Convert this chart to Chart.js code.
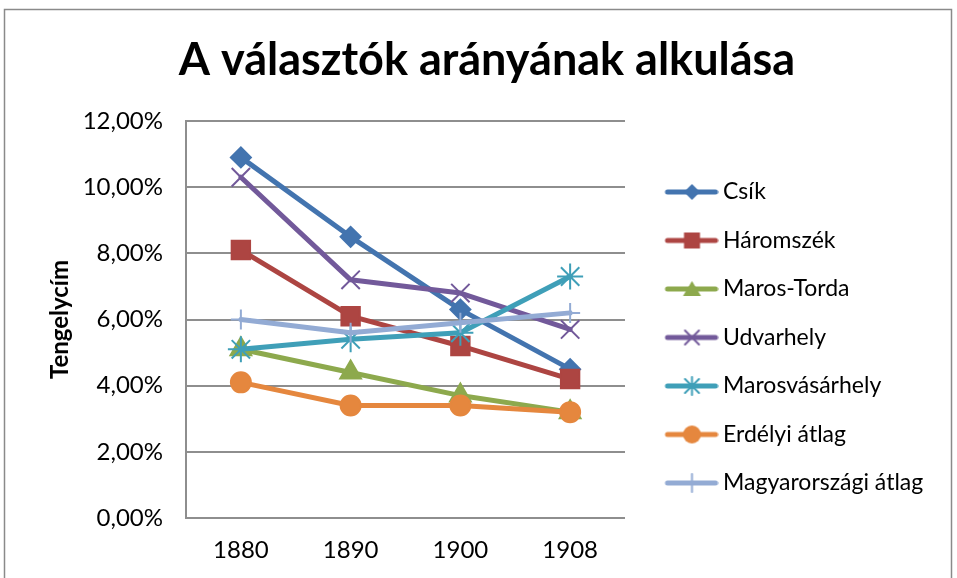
<!DOCTYPE html>
<html>
<head>
<meta charset="utf-8">
<script src="https://cdn.jsdelivr.net/npm/chart.js@4/dist/chart.umd.min.js"></script>
<style>
  html, body { margin: 0; padding: 0; background: #fff; }
  #wrap { position: absolute; left: 0; top: 0; width: 957px; height: 578px; }
</style>
</head>
<body>
<div id="wrap"><canvas id="line-chart" width="957" height="578"></canvas></div>
<script>
// years on the x axis
var years = ["1880", "1890", "1900", "1908"];

// share of voters, in percent
var csik = [10.9, 8.5, 6.3, 4.5];
var haromszek = [8.1, 6.1, 5.2, 4.2];
var marosTorda = [5.1, 4.4, 3.7, 3.2];
var udvarhely = [10.3, 7.2, 6.8, 5.7];
var marosvasarhely = [5.1, 5.4, 5.6, 7.3];
var erdelyi = [4.1, 3.4, 3.4, 3.2];
var magyar = [6.0, 5.6, 5.9, 6.2];

var yTicks = [0, 2, 4, 6, 8, 10, 12];

var labels = ["Csík", "Háromszék", "Maros-Torda", "Udvarhely", "Marosvásárhely", "Erdélyi átlag", "Magyarországi átlag"];
var color = ["#4374AF", "#AD4542", "#8DA94D", "#72599A", "#3F9FB8", "#E5873E", "#93ABD4"];
var shapes = ["diamond", "square", "triangle", "x", "star", "circle", "plus"];

var fontFam = "Lato, 'Open Sans', sans-serif";
var legendSize = 23;
var tickSize = 24;

Chart.defaults.font.family = fontFam;
Chart.defaults.color = "#000";

// little picture for the legend: line + marker
function legendPic(col, shape) {
    var c = document.createElement("canvas");
    c.width = 75;
    c.height = 26;
    var g = c.getContext("2d");
    g.strokeStyle = col;
    g.fillStyle = col;
    g.lineWidth = 5;
    g.lineCap = "round";
    g.beginPath();
    g.moveTo(24, 13);
    g.lineTo(72, 13);
    g.stroke();
    var x = 48.5, y = 13;
    g.lineWidth = 2;
    g.beginPath();
    if (shape == "diamond") {
        g.moveTo(x - 8, y); g.lineTo(x, y - 8); g.lineTo(x + 8, y); g.lineTo(x, y + 8); g.closePath(); g.fill();
    } else if (shape == "square") {
        g.rect(x - 8, y - 8, 16, 16); g.fill();
    } else if (shape == "triangle") {
        g.moveTo(x, y - 8); g.lineTo(x + 9, y + 7); g.lineTo(x - 9, y + 7); g.closePath(); g.fill();
    } else if (shape == "x") {
        g.moveTo(x - 7, y - 7); g.lineTo(x + 7, y + 7); g.moveTo(x + 7, y - 7); g.lineTo(x - 7, y + 7); g.stroke();
    } else if (shape == "star") {
        g.moveTo(x - 7, y - 7); g.lineTo(x + 7, y + 7); g.moveTo(x + 7, y - 7); g.lineTo(x - 7, y + 7);
        g.moveTo(x, y - 9); g.lineTo(x, y + 9); g.stroke();
    } else if (shape == "circle") {
        g.arc(x, y, 9, 0, Math.PI * 2); g.fill();
    } else if (shape == "plus") {
        g.moveTo(x, y - 9); g.lineTo(x, y + 9); g.stroke();
    }
    return c;
}

var pics = [];
for (var k = 0; k < labels.length; k++) {
    pics.push(legendPic(color[k], shapes[k]));
}

// measure the longest legend text so the plot lands where it should
var mc = document.createElement("canvas").getContext("2d");
mc.font = "normal " + legendSize + "px " + fontFam;
var tw = 0;
labels.forEach(function (t) { tw = Math.max(tw, mc.measureText(t).width); });

var legPad = 25.5;
var boxW = 61;
var legendWidth = legPad + boxW + legendSize / 2 + tw + 10;
var plotLeft = 186, plotRight = 625;
var padRight = Math.max(0, 957 - plotRight - legendWidth);
var padLeft = 17 + padRight;

var series = [csik, haromszek, marosTorda, udvarhely, marosvasarhely, erdelyi, magyar];
var pStyle = ["rectRot", "rect", "triangle", "crossRot", "star", "circle", "cross"];
var pRad = [10, 13, 12, 13, 13, 10, 10];

var datasets = [];
for (var i = 0; i < series.length; i++) {
    datasets.push({
        label: labels[i],
        data: series[i],
        borderColor: color[i],
        backgroundColor: color[i],
        borderWidth: 5,
        borderJoinStyle: "round",
        borderCapStyle: "round",
        tension: 0,
        pointStyle: pStyle[i],
        pointRadius: pRad[i],
        pointHoverRadius: pRad[i],
        pointBorderWidth: 2,
        pointBackgroundColor: color[i],
        pointBorderColor: color[i],
        order: series.length - i
    });
}

var frame = {
    id: "frame",
    beforeDraw: function (chart) {
        var c = chart.ctx;
        c.save();
        c.fillStyle = "#fff";
        c.fillRect(0, 0, chart.width, chart.height);
        c.strokeStyle = "#8a8a8a";
        c.lineWidth = 1.5;
        c.strokeRect(4.5, 9.5, 947, 600);
        c.restore();
    }
};

new Chart(document.getElementById("line-chart"), {
    type: "line",
    data: {
        labels: years,
        datasets: datasets
    },
    options: {
        responsive: false,
        animation: false,
        layout: {
            padding: { left: padLeft, right: padRight, top: 10, bottom: 0 }
        },
        plugins: {
            title: {
                display: true,
                text: "A választók arányának alkulása",
                font: { size: 45, weight: "bold" },
                color: "#000",
                padding: { top: 23, bottom: 34 }
            },
            legend: {
                position: "right",
                fullSize: true,
                align: "center",
                maxWidth: 500,
                title: {
                    display: true,
                    text: "",
                    font: { size: 72.5 },
                    padding: 0
                },
                labels: {
                    usePointStyle: true,
                    pointStyleWidth: boxW,
                    padding: legPad,
                    font: { size: legendSize },
                    color: "#000",
                    generateLabels: function (chart) {
                        var items = Chart.defaults.plugins.legend.labels.generateLabels(chart);
                        items.forEach(function (it) {
                            it.pointStyle = pics[it.datasetIndex];
                        });
                        items.sort(function (a, b) { return a.datasetIndex - b.datasetIndex; });
                        return items;
                    }
                }
            },
            tooltip: { enabled: false }
        },
        scales: {
            x: {
                offset: true,
                grid: { display: false, drawTicks: false },
                border: { display: false },
                ticks: { padding: 17.6, font: { size: tickSize }, color: "#000" },
                afterFit: function (scale) { scale.height = 60; }
            },
            y: {
                min: 0,
                max: 12,
                afterBuildTicks: function (scale) {
                    scale.ticks = yTicks.map(function (v) { return { value: v }; });
                },
                grid: { color: "#8e8e8e", lineWidth: 2, drawTicks: false },
                border: { display: true, color: "#8e8e8e", width: 2 },
                ticks: {
                    padding: 23,
                    font: { size: tickSize },
                    color: "#000",
                    callback: function (v) { return v.toFixed(2).replace(".", ",") + "%"; }
                },
                title: {
                    display: true,
                    text: "Tengelycím",
                    font: { size: 24, weight: "bold" },
                    color: "#000",
                    padding: { top: 60 - padLeft - 14.4, bottom: 0 }
                },
                afterFit: function (scale) { scale.width = plotLeft - padLeft; }
            }
        }
    },
    plugins: [frame]
});
</script>
</body>
</html>
